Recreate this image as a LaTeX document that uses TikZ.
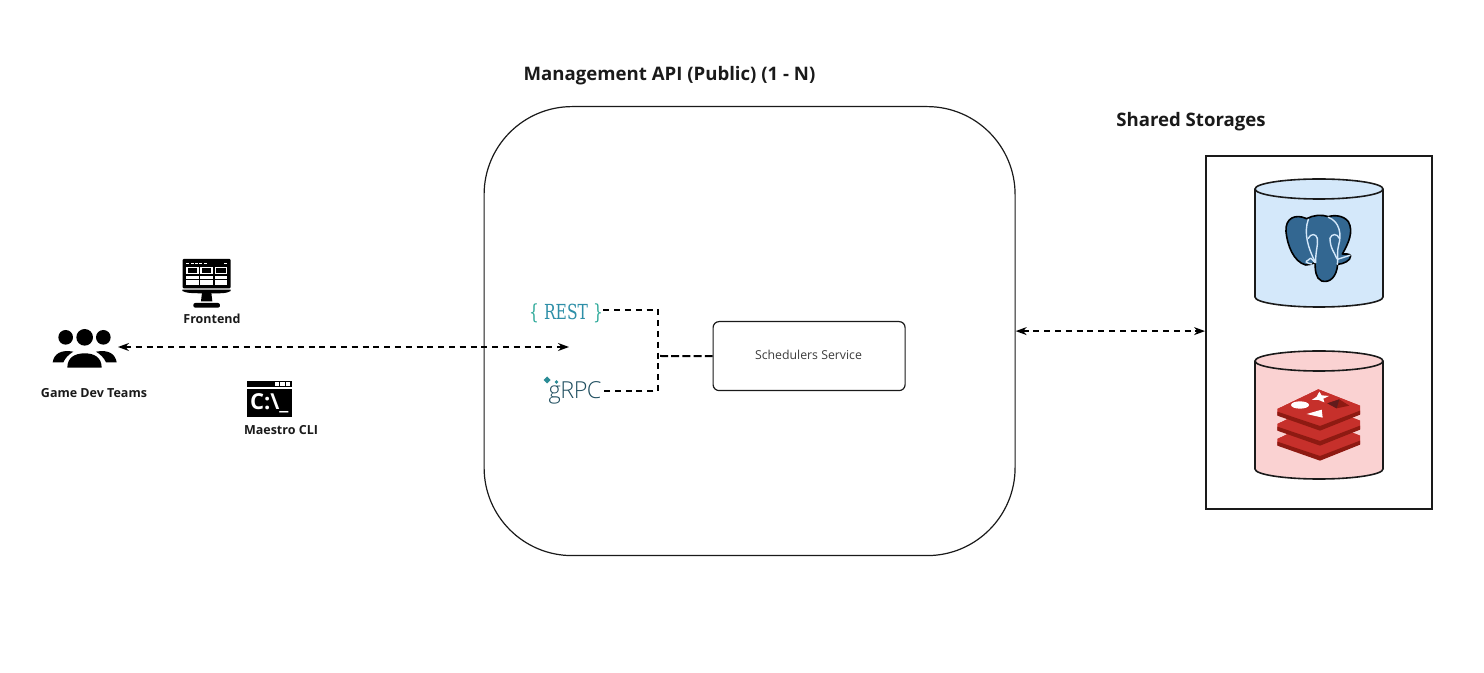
\documentclass[tikz,border=0pt]{standalone}
\usepackage{fontspec}
\setmainfont{Open Sans}
\newfontfamily\slabfont{DejaVu Serif}
\newfontfamily\lightfont{Open Sans Light}
\usetikzlibrary{arrows.meta,calc}
\definecolor{inkc}{HTML}{1A1A1A}
\definecolor{pgblue}{HTML}{336791}
\definecolor{cylblue}{HTML}{D4E8FA}
\definecolor{cylred}{HTML}{FAD2D2}
\definecolor{redA}{HTML}{8E1A12}
\definecolor{redB}{HTML}{C6302B}
\definecolor{redC}{HTML}{621B1C}
\definecolor{restT}{HTML}{2AA898}
\definecolor{restB}{HTML}{2E8FA8}
\definecolor{grpcD}{HTML}{1F4E5F}
\definecolor{grpcT}{HTML}{2A8C96}
\newcommand{\pxfont}[1]{\fontsize{#1}{#1}\selectfont}
\tikzset{
  box/.style={draw=inkc,line width=0.6pt,fill=white,inner sep=0pt},
  heading/.style={font=\pxfont{9.3}\bfseries,text=inkc,inner sep=0pt},
  iconlabel/.style={font=\pxfont{6.25}\bfseries,text=inkc,inner sep=0pt},
  dashlink/.style={draw=black,line width=0.6pt,dash pattern=on 3pt off 2.4pt},
  dbl/.style={dashlink,{Stealth[length=5.5pt,width=4pt]}-{Stealth[length=5.5pt,width=4pt]}},
  cyl/.style={draw=inkc,line width=0.8pt},
}
\begin{document}
\begin{tikzpicture}[x=0.5pt,y=-0.5pt]
\useasboundingbox (0,0) rectangle (1484,673);
\fill[white] (0,0) rectangle (1484,673);

% containers
\node[box,minimum width=265.5pt,minimum height=224.5pt,rounded corners=44pt,anchor=north west] (api) at (483.5,106) {};
\node[box,line width=1pt,minimum width=113pt,minimum height=176.5pt,anchor=north west] (store) at (1205,155) {};
\node[box,minimum width=96pt,minimum height=34.5pt,rounded corners=3pt,anchor=north west,font=\pxfont{6.15},text=inkc!85] (sched) at (712.5,321) {};
\node[inner sep=0pt,font=\pxfont{6.15},text=inkc!85] (schedtext) at (808.5,354.5) {Schedulers Service};

% headings
\node[heading] (apititle) at (669.5,76) {Management API (Public) (1 - N)};
\node[heading] (storetitle) at (1191,122) {Shared Storages};
\node[iconlabel] (frontlabel) at (212,319) {Frontend};
\node[iconlabel] (teamlabel) at (94,393.5) {Game Dev Teams};
\node[iconlabel] (clilabel) at (281,430) {Maestro CLI};

% protocol labels
\node[inner sep=0pt,font=\slabfont\pxfont{9}] (rest) at (566,313) {\scalebox{0.86}[1.15]{\textcolor{restT}{\{}\,\,\textcolor{restB}{REST}\,\,\textcolor{restT}{\}}}};
\node[inner sep=0pt,font=\lightfont\pxfont{11.7}\addfontfeature{LetterSpace=-2},text=grpcD] (grpc) at (575,393) {gRPC};
\fill[grpcT] (543.5,380) -- (547,376.5) -- (550.5,380) -- (547,383.5) -- cycle;
\fill[grpcT] (556.5,382) circle (0.9pt);

% connectors
\coordinate (teamport) at (118,347);
\coordinate (apiport) at (569,347);
\coordinate (junction) at (660,356);
\coordinate (restcorner) at (658,310);
\coordinate (grpccorner) at (658,391);
\draw[dbl] (teamport) -- (apiport);
\draw[dbl] (api.east) -- (store.west |- api.east);
\draw[dashlink] (rest.east |- restcorner) -- (restcorner) -- (grpccorner) -- (grpc.east |- grpccorner);
\draw[dashlink,line width=1pt,dash pattern=on 4pt off 1.6pt] (junction) -- (sched.west);

% people icon
\begin{scope}[shift={(20,240)},scale=1/3]
\fill[black] (137,292) circle (22) (194,292) circle (25) (250,292) circle (22);
\fill[black] (142,383) .. controls (142,352) and (165,340) .. (194,340) .. controls (223,340) and (245,352) .. (245,383) -- cycle;
\fill[black] (98,367) .. controls (102,342) and (122,328) .. (160,335) .. controls (147,343) and (136,353) .. (130,367) -- cycle;
\fill[black] (290,367) .. controls (286,342) and (266,328) .. (228,335) .. controls (241,343) and (252,353) .. (258,367) -- cycle;

% monitor icon
\fill[black,rounded corners=0.5pt] (488,57) rectangle (632,145);
\foreach \a in {499,512,525,538,551,612} \fill[white] (\a,68) rectangle (\a+9,72);
\foreach \a in {498,541,584}{
  \fill[white] (\a,80) rectangle (\a+38,103);
  \fill[black] (\a+5,85) rectangle (\a+33,99);
  \fill[white] (\a,108) rectangle (\a+38,117);
  \fill[white] (\a,121) rectangle (\a+38,134);
}
\fill[black] (487,149) -- (632,149) -- (632,153) .. controls (620,160) and (610,160) .. (575,160) .. controls (520,160) and (500,160) .. (487,153) -- cycle;
\fill[black] (546,158) -- (574,158) -- (577,184) -- (543,184) -- cycle;
\fill[black,rounded corners=1pt] (520,189) rectangle (600,203);

% terminal icon
\fill[black] (680,422) rectangle (817,532);
\fill[white] (680,441) rectangle (817,447);
\foreach \a in {765,781,797} \fill[white] (\a,427) rectangle (\a+13,437);
\node[inner sep=0pt,text=white,font=\pxfont{11}\bfseries] (cliglyph) at (748,489) {C:\textbackslash\_};
\end{scope}

% blue cylinder
\fill[cylblue] (1255,189) -- (1255,297) arc[start angle=180,end angle=0,x radius=64,y radius=10] -- (1383,189) arc[start angle=0,end angle=-180,x radius=64,y radius=10] -- cycle;
\draw[cyl] (1255,189) -- (1255,297) arc[start angle=180,end angle=0,x radius=64,y radius=10] -- (1383,189);
\draw[cyl] (1319,189) ellipse[x radius=64,y radius=10];

% postgres elephant
\begin{scope}[shift={(1240,170)},scale=1/3]
\path[fill=pgblue,draw=black,line width=0.8pt,line join=round]
  (200,146) .. controls (165,130) and (135,145) .. (138,185)
  .. controls (142,225) and (160,275) .. (197,285)
  .. controls (207,287) and (215,280) .. (225,278)
  .. controls (226,300) and (226,325) .. (245,333)
  .. controls (270,340) and (290,320) .. (293,283)
  .. controls (310,282) and (332,272) .. (332,258)
  .. controls (328,250) and (315,252) .. (307,252)
  .. controls (325,220) and (342,185) .. (325,155)
  .. controls (310,135) and (280,135) .. (265,140)
  .. controls (245,133) and (220,135) .. (200,146) -- cycle;
\begin{scope}[draw=cylblue,line width=0.7pt,line cap=round]
\draw (205,148) .. controls (190,190) and (205,235) .. (225,275) ;
\draw (225,278) .. controls (210,262) and (215,262) .. (205,270) .. controls (195,275) and (195,278) .. (215,282);
\draw (265,142) .. controls (300,155) and (305,195) .. (296,225) .. controls (290,245) and (295,260) .. (292,283);
\draw (292,268) -- (330,256);
\draw (227,278) .. controls (226,245) and (235,225) .. (232,205);
\draw (270,205) .. controls (270,235) and (285,250) .. (290,265);
\draw (205,205) .. controls (212,190) and (228,190) .. (232,205);
\draw (270,205) .. controls (275,190) and (292,190) .. (298,205);
\end{scope}
\end{scope}

% red cylinder
\fill[cylred] (1255,361) -- (1255,469) arc[start angle=180,end angle=0,x radius=64,y radius=10] -- (1383,361) arc[start angle=0,end angle=-180,x radius=64,y radius=10] -- cycle;
\draw[cyl] (1255,361) -- (1255,469) arc[start angle=180,end angle=0,x radius=64,y radius=10] -- (1383,361);
\draw[cyl] (1319,361) ellipse[x radius=64,y radius=10];

% redis stack
\begin{scope}[shift={(1240,340)},scale=1/3]
\foreach \d in {90,45,0}{
  \begin{scope}[shift={(0,\d)}]
  \fill[redB] (112,207) -- (112,225) -- (240,270) -- (360,222) -- (360,197) -- (235,148) -- cycle;
  \fill[redA] (112,215) -- (112,227) -- (240,272) -- (360,224) -- (360,212) -- (240,258) -- cycle;
  \fill[redB] (112,207) -- (235,148) -- (360,197) -- (240,250) -- cycle;
  \end{scope}
}
\fill[redA] (262,190) -- (298,178) -- (328,197) -- (290,205) -- cycle;
\fill[redC] (262,190) -- (298,178) -- (290,205) -- cycle;
\fill[white] (180,195) ellipse[x radius=27,y radius=11];
\fill[white] (200,222) -- (245,209) -- (248,233) -- cycle;
\fill[white] (238,155) -- (245,166) -- (267,168) -- (250,176) -- (253,187) -- (236,180) -- (215,180) -- (230,170) -- cycle;
\end{scope}
\end{tikzpicture}
\end{document}
